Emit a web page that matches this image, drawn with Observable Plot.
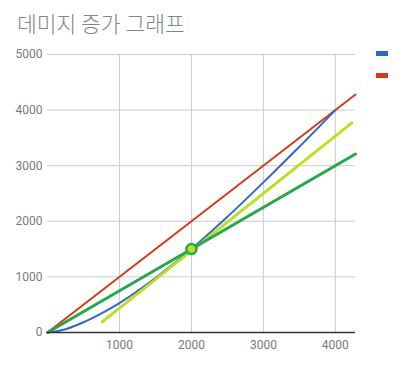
<!DOCTYPE html>
<html><head><meta charset="utf-8">
<script src="https://cdn.jsdelivr.net/npm/d3@7"></script>
<script src="https://cdn.jsdelivr.net/npm/@observablehq/plot@0.6"></script>
<style>
body{margin:0;background:#fff;font-family:Roboto,"Noto Sans CJK KR",sans-serif;}
#wrap{position:relative;width:412px;height:366px;}
#title{position:absolute;left:17px;top:7px;font-size:21.5px;font-weight:300;color:#858585;font-family:"Noto Sans CJK KR",sans-serif;}
.lg{position:absolute;left:376px;width:12px;height:5px;}
</style></head><body>
<div id="wrap"><div id="title">데미지 증가 그래프</div>
<div class="lg" style="top:51px;background:#3366cc"></div>
<div class="lg" style="top:73px;background:#dc3912"></div>
</div>
<script>
const xTicks=[1000,2000,3000,4000];
const yTicks=[0,1000,2000,3000,4000,5000];
const blueX=[0,250,500,750,1000,1500,2000,2500,3000,3500,4000];
const blueY=[0,60,185,345,530,980,1500,2080,2700,3340,4000];
const redX=[0,4280];
const redY=[0,4280];
const greenX=[0,4280];
const greenY=[0,3210];
const limeX=[760,4230];
const limeY=[190,3770];
const pointX=[2000];
const pointY=[1500];
const toRows=(xs,ys)=>xs.map((x,i)=>({x,y:ys[i]}));
const fmt=d3.format("d");
const plot=Plot.plot({
  width:412,height:366,marginTop:54,marginBottom:34,marginLeft:47,marginRight:57,
  x:{domain:[0,4280]},y:{domain:[0,5000]},
  style:{fontFamily:"Roboto, sans-serif",fontSize:"12px",color:"#7a7a7a",background:"transparent"},
  marks:[
    Plot.ruleX(xTicks,{stroke:"#cccccc",strokeWidth:1,strokeOpacity:1}),
    Plot.ruleY(yTicks.filter(d=>d>0),{stroke:"#cccccc",strokeWidth:1,strokeOpacity:1}),
    Plot.axisX(xTicks,{tickSize:0,tickPadding:8,label:null,fill:"#7a7a7a",fontSize:12,tickFormat:fmt}),
    Plot.axisY(yTicks,{tickSize:0,tickPadding:5,label:null,fill:"#7a7a7a",fontSize:12,tickFormat:fmt}),
    Plot.line(toRows(redX,redY),{x:"x",y:"y",stroke:"#dc3912",strokeWidth:2}),
    Plot.line(toRows(blueX,blueY),{x:"x",y:"y",stroke:"#3366cc",strokeWidth:2,curve:"monotone-x"}),
    Plot.line(toRows(limeX,limeY),{x:"x",y:"y",stroke:"#bde01c",strokeWidth:3}),
    Plot.line(toRows(greenX,greenY),{x:"x",y:"y",stroke:"#22a94a",strokeWidth:3}),
    Plot.ruleY([0],{stroke:"#333333",strokeWidth:1.5}),
    Plot.dot(toRows(pointX,pointY),{x:"x",y:"y",r:5,fill:"#bde01c",stroke:"#22a94a",strokeWidth:2.5})
  ]
});
plot.style.position="absolute";plot.style.left="0";plot.style.top="0";
document.getElementById("wrap").prepend(plot);
</script></body></html>
